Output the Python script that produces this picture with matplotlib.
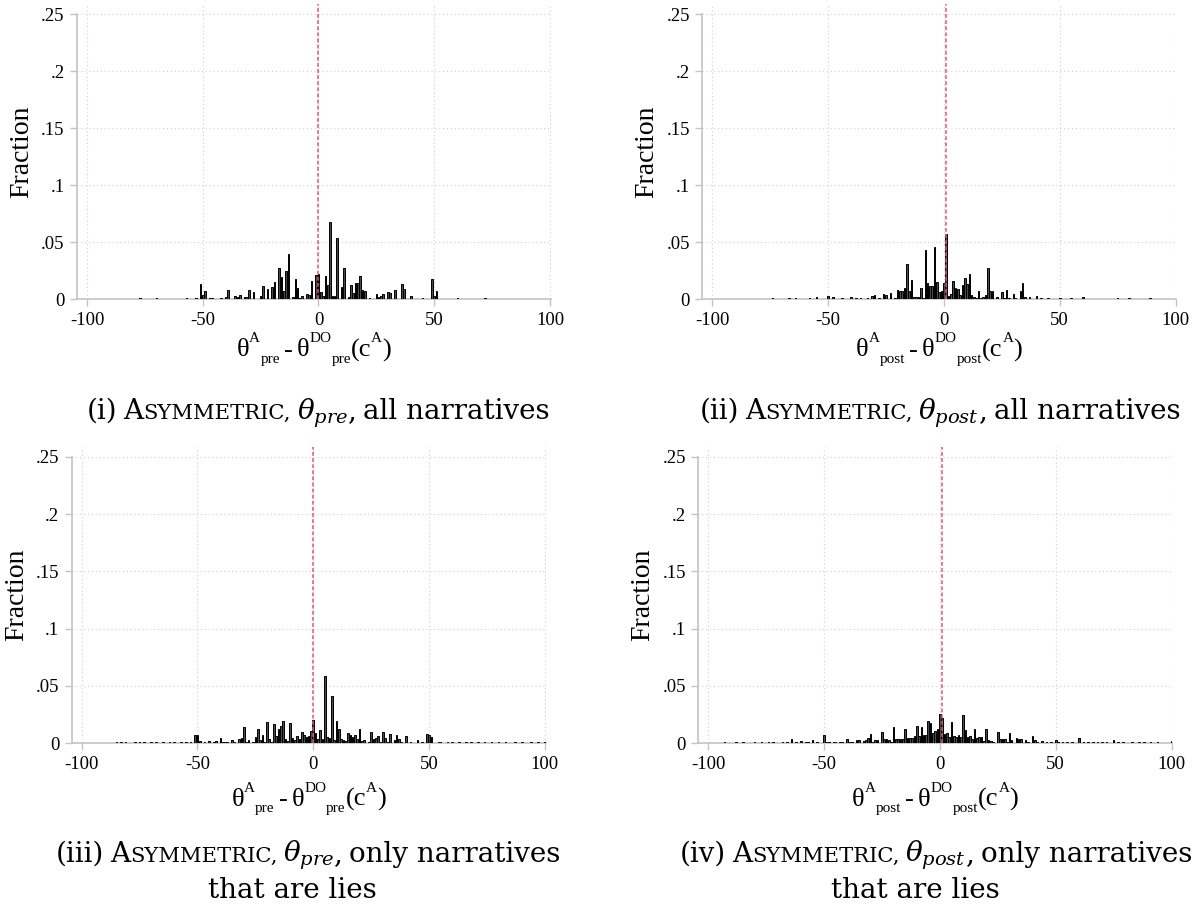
import numpy as np
import matplotlib
matplotlib.use("Agg")
import matplotlib.pyplot as plt

plt.rcParams["font.family"] = ["Liberation Serif", "DejaVu Serif"]

# (i) theta_pre, all narratives
pre_all_x = [-86, -84, -81, -77, -75, -72, -70, -67, -65, -62, -59, -57, -55, -53,
             -51, -50, -49, -47, -46, -42, -40, -39, -36, -35, -34, -32, -31, -30, -28, -25, -24, -22, -20, -19,
             -17, -16, -15, -14, -13, -11, -10, -9, -8, -7, -5, -4, -3, -1, 0, 1, 2, 3, 4, 5, 6, 7, 8, 10, 11,
             13, 14, 15, 16, 17, 18, 19, 20, 22, 25, 26, 27, 28, 30, 31, 33, 36, 37, 40, 45, 49, 50, 51,
             54, 57, 60, 63, 66, 69, 72, 75, 78, 82, 85, 88, 92, 95, 98]
pre_all_frac = [.0007, .0007, .0007, .0010, .0007, .0007, .0010, .0007, .0007, .0007, .0007, .0010, .0007, .0010,
                .0138, .004, .0074, .001, .0012, .0015, .0024, .008, .003, .002, .004, .002, .002, .008, .006, .003, .012, .0094, .0106, .015,
                .027, .0197, .007, .0244, .040, .0024, .018, .010, .0015, .003, .005, .0038, .0156, .0215, .022, .006, .003, .020, .0126, .068, .003, .003, .054, .011, .027,
                .0024, .0126, .0053, .0147, .0147, .020, .008, .0074, .0015, .005, .0024, .0027, .0044, .006, .0056, .0085, .0138, .0094, .003, .0009, .018, .003, .007,
                .0007, .0007, .0010, .0007, .0007, .0007, .0010, .0007, .0007, .0007, .0007, .0007, .0007, .0007, .0007]

# (ii) theta_post, all narratives
post_all_x = [-96, -92, -88, -85, -80, -77, -74, -70, -67, -64, -61, -58, -55, -53,
              -50, -48, -44, -40, -38, -36, -33, -31, -30, -28, -26, -25, -23, -21, -20, -19, -18, -17, -16, -15, -14,
              -13, -12, -11, -10, -9, -8, -7, -6, -5, -4, -3, -2, -1, 0, 1, 2, 3, 4, 5, 6, 7, 8, 9, 10, 11, 12, 13, 14,
              15, 16, 17, 18, 19, 20, 21, 23, 25, 26, 27, 28, 30, 31, 33, 34, 35, 37, 40, 42, 45, 48, 50,
              53, 55, 57, 60, 63, 65, 68, 71, 75, 78, 80, 83, 86, 89, 92, 96, 99]
post_all_frac = [.0007, .0007, .0007, .0007, .0007, .0007, .0010, .0007, .0010, .0010, .0007, .0010, .0018, .0007,
                 .003, .0018, .0010, .0021, .0010, .0012, .0012, .003, .004, .0010, .005, .0041, .0053, .0015, .008, .007, .007, .0097, .031, .007, .0165,
                 .0024, .0018, .0018, .010, .0015, .043, .0147, .0118, .0115, .046, .015, .006, .007, .0147, .057, .003, .0044, .0156, .010, .0088, .0035, .0126, .019, .013, .022, .0038, .0024, .0015,
                 .007, .0015, .0024, .0038, .027, .007, .007, .0018, .006, .0015, .0085, .0015, .005, .0015, .007, .0147, .0024, .0018, .0032, .0010, .0012, .0007, .0015,
                 .0007, .0010, .0007, .0020, .0007, .0007, .0007, .0007, .0010, .0007, .0012, .0007, .0007, .0010, .0007, .0007, .0007]

# (iii) theta_pre, only lies
pre_lie_x = [-85, -83, -81, -77, -75, -73, -70, -68, -65, -62, -60, -57, -55, -53,
             -51, -50, -49, -47, -45, -43, -42, -40, -39, -38, -37, -35, -34, -32, -31, -30, -29, -28, -26, -25, -24,
             -23, -22, -21, -20, -19, -18, -17, -16, -15, -14, -13, -12, -11, -10, -9, -8, -7, -6, -5, -4, -3, -2, -1,
             0, 1, 2, 3, 4, 5, 6, 7, 8, 9, 10, 11, 12, 13, 14, 15, 16, 17, 18, 19, 20, 21, 22, 24, 25, 26, 27, 28,
             29, 30, 31, 32, 33, 35, 36, 37, 38, 40, 42, 45, 47, 49, 50, 51, 54, 55,
             58, 60, 63, 66, 68, 71, 74, 77, 80, 83, 87, 90, 94, 97, 100]
pre_lie_frac = [.0007, .0007, .0015, .0007, .0007, .0010, .0012, .0010, .0007, .0007, .0007, .0010, .0007, .0007,
                .007, .007, .002, .0012, .002, .0012, .002, .0047, .0012, .0012, .0015, .0032, .0015, .004, .0044, .014, .0015, .0026, .0012, .0055, .0125,
                .0032, .0076, .0012, .019, .0038, .0015, .0172, .0064, .0123, .0155, .0196, .004, .0024, .0178, .0044, .0026, .006, .0038, .0096, .0076, .0058, .0067, .0108,
                .0207, .009, .004, .0117, .004, .0587, .0055, .0047, .041, .0026, .0196, .0128, .004, .0032, .0018, .009, .0073, .0055, .007, .004, .0125, .0018, .0026, .0012, .0102, .0038, .0044, .006,
                .0015, .0102, .0047, .0012, .0085, .0032, .007, .004, .0012, .0067, .0010, .0026, .0010, .0085, .007, .0055, .0015, .0015,
                .0010, .0015, .0007, .0007, .0010, .0007, .0010, .0007, .0007, .0010, .0007, .0007, .0010, .0007, .0010]

# (iv) theta_post, only lies
post_lie_x = [-93, -88, -85, -80, -77, -74, -72, -68, -66, -64, -62, -60, -58, -57, -55, -53,
              -50, -49, -48, -46, -45, -43, -42, -40, -39, -38, -36, -35, -33, -32, -31, -30, -29, -28, -27, -25, -24,
              -23, -22, -21, -20, -19, -18, -17, -16, -15, -14, -13, -12, -11, -10, -9, -8, -7, -6, -5, -4, -3, -2, -1,
              0, 1, 2, 3, 4, 5, 6, 7, 8, 9, 10, 11, 12, 13, 14, 15, 16, 17, 18, 19, 20, 21, 22, 23, 25, 26, 27, 28,
              29, 30, 31, 33, 34, 35, 37, 38, 40, 41, 42, 44, 46, 48, 50, 51,
              53, 55, 57, 60, 62, 64, 66, 68, 70, 72, 75, 77, 79, 83, 86, 88, 91, 94, 100]
post_lie_frac = [.0007, .0012, .0015, .0012, .0015, .0010, .0010, .0015, .0007, .0035, .0010, .0018, .0012, .0010, .003, .0010,
                 .007, .0010, .0012, .0012, .0012, .0015, .0012, .004, .0010, .0015, .003, .003, .0024, .003, .0047, .0081, .0012, .003, .003, .0096, .0035,
                 .0038, .003, .0015, .014, .0041, .0038, .0035, .0035, .0128, .0044, .0044, .0047, .006, .0154, .0061, .0145, .007, .007, .0198, .018, .0087, .0105, .0128,
                 .026, .022, .0079, .0087, .0058, .019, .0064, .0058, .007, .0058, .0245, .0116, .0055, .0064, .0038, .0125, .0044, .0058, .0052, .0024, .0125, .003, .0024, .0015, .0102, .0035, .0041, .0035,
                 .0015, .0093, .003, .005, .0038, .0041, .003, .0012, .0067, .003, .0012, .0024, .0012, .0010, .0026, .0015,
                 .0010, .0012, .0010, .0044, .0012, .0010, .0015, .0010, .0012, .0010, .003, .0015, .0010, .0010, .0012, .0012, .0010, .0010, .002]

ref_lines = [0, 1, -0.3, 1.1]
yticks = [0, .05, .1, .15, .2, .25]
ytick_labels = ["0", ".05", ".1", ".15", ".2", ".25"]
xticks = [-100, -50, 0, 50, 100]
tags = ["pre", "post", "pre", "post"]
numerals = ["(i)", "(ii)", "(iii)", "(iv)"]
endings = ["all narratives", "all narratives", "only narratives", "only narratives"]

W, H = 1200, 908
fig = plt.figure(figsize=(W / 100, H / 100), dpi=100)
renderer = fig.canvas.get_renderer()


def row_of_texts(pieces, cx, y, family):
    # pieces: (text, size, dy px, gap after px, math?) laid left to right, centred on cx
    objs, widths = [], []
    for txt, size, dy, gap, is_math in pieces:
        kw = dict(fontsize=size, family=family, va="baseline", ha="left")
        if is_math:
            kw["math_fontfamily"] = "dejavuserif"
        t = fig.text(0, 0, txt, **kw)
        objs.append((t, dy))
        widths.append(t.get_window_extent(renderer).width + gap)
    x = cx - sum(widths) / 2
    for (t, dy), w in zip(objs, widths):
        t.set_position((x / W, 1 - (y + dy) / H))
        x += w
    return sum(widths)


# axes boxes in pixels: left, top, right, bottom
boxes = [(77, 4, 550.7, 299.3), (702.3, 4, 1176.2, 299.3),
         (71.7, 446.7, 545.6, 743.3), (698.3, 446.7, 1172.2, 743.3)]
data = [(pre_all_x, pre_all_frac), (post_all_x, post_all_frac),
        (pre_lie_x, pre_lie_frac), (post_lie_x, post_lie_frac)]
xlabel_base = [356.5, 356.5, 806, 806]

spine_col = "#c4c4c4"
for (l, t, r, b), (xs, fr), xl, tag, yb in zip(boxes, data, ref_lines, tags, xlabel_base):
    ax = fig.add_axes([l / W, 1 - b / H, (r - l) / W, (b - t) / H])
    ax.bar(xs, fr, width=0.7, color="#4a4a4a", edgecolor="black", linewidth=0.7, zorder=3)
    ax.axvline(xl, color="#e0557a", linestyle=(0, (2.5, 1.5)), linewidth=1.1, zorder=4)
    ax.set_xlim(-104.3, 100.3)
    ax.set_ylim(0, 0.2588)
    ax.set_xticks(xticks)
    ax.set_xticklabels([str(v) for v in xticks], fontsize=13.5)
    ax.set_yticks(yticks)
    ax.set_yticklabels(ytick_labels, fontsize=13.5)
    ax.grid(True, linestyle=(0, (1, 2.5)), color="#d0d0d0", linewidth=0.8, zorder=0)
    for s in ["top", "right"]:
        ax.spines[s].set_visible(False)
    ax.spines["left"].set_bounds(0, 0.25)
    for s in ["left", "bottom"]:
        ax.spines[s].set_color(spine_col)
        ax.spines[s].set_linewidth(1.2)
    ax.tick_params(direction="out", length=5, width=1.0, color=spine_col, pad=4)
    ax.set_ylabel("Fraction", fontsize=20, labelpad=5)
    # Stata-style axis title: superscript then subscript after it
    row_of_texts([("θ", 19, 0, 0, False), ("A", 11, -14, 0, False), (tag, 11, 6, 4, False),
                  ("-", 19, 0, 4, False), ("θ", 19, 0, 0, False), ("DO", 11, -14, 0, False),
                  (tag, 11, 6, 0, False), ("(c", 19, 0, 0, False), ("A", 11, -14, 0, False),
                  (")", 19, 0, 0, False)],
                 (l + r) / 2, yb, "Liberation Serif")

cap_font = "DejaVu Serif"
big = 20.0
small = big * 0.76
sp = 6
cap_pos = [(318, 419), (940, 419), (308, 862), (936, 862)]
for (cx, cy), num, tag, end in zip(cap_pos, numerals, tags, endings):
    row_of_texts([(num, big, 0, sp, False), ("A", big, 0, 0, False), ("SYMMETRIC,", small, 0, sp, False),
                  (r"$\theta_{%s}$" % tag, big, 0, 0, True), (",", big, 0, sp, False),
                  (end, big, 0, 0, False)], cx, cy, cap_font)

fig.text(292 / W, 1 - 898 / H, "that are lies", fontsize=big, family=cap_font, ha="center", va="baseline")
fig.text(915 / W, 1 - 898 / H, "that are lies", fontsize=big, family=cap_font, ha="center", va="baseline")

fig.savefig("out.png", dpi=100)
